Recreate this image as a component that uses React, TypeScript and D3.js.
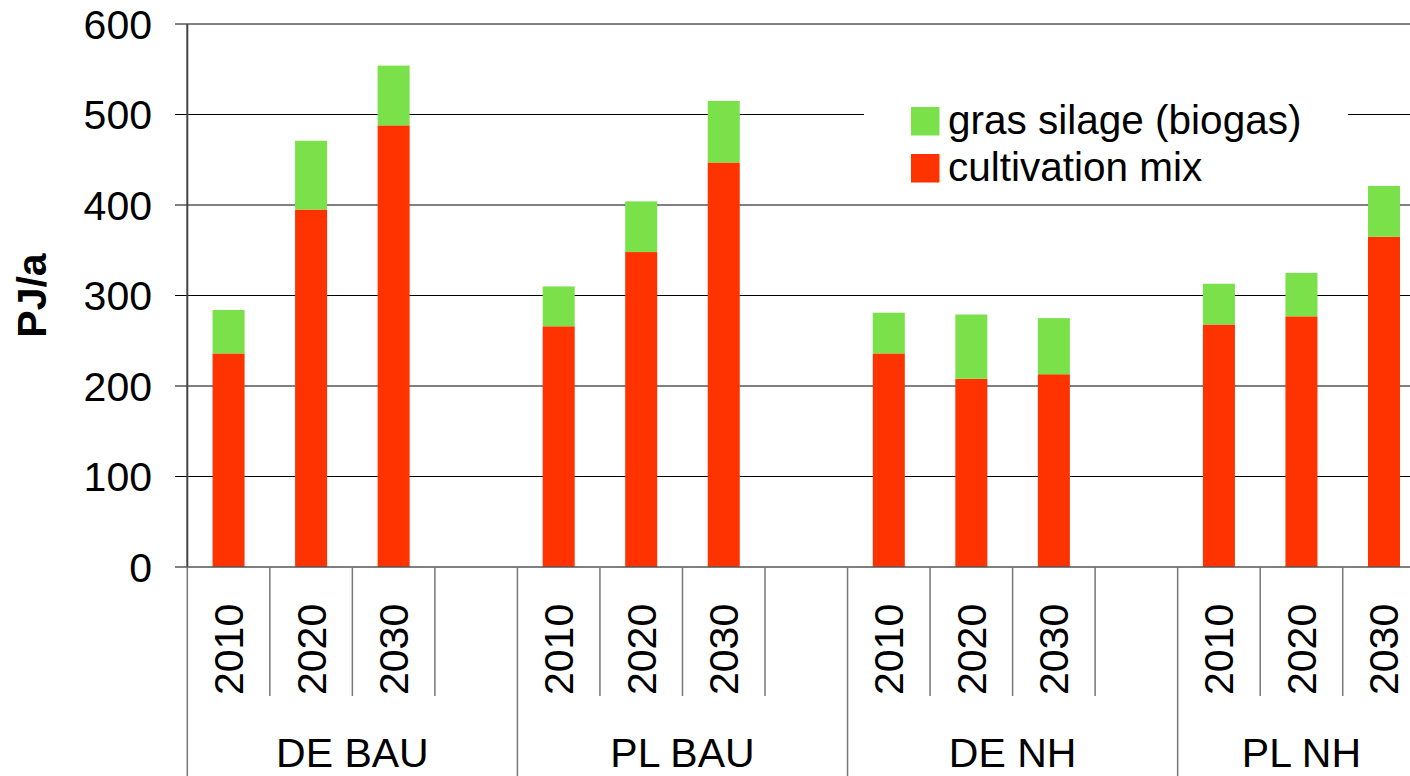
import React from "react";
import * as d3 from "d3";

// Scenario groups and the years shown inside each group
const groups = ["DE BAU", "PL BAU", "DE NH", "PL NH"];
const years = ["2010", "2020", "2030"];

// Energy potential in PJ/a, one row per group, one value per year
const cultivationMix = [
  [236, 395, 488],
  [266, 348, 447],
  [236, 208, 213],
  [268, 277, 365],
];
const grasSilage = [
  [48, 76, 66],
  [44, 56, 68],
  [45, 71, 62],
  [45, 48, 56],
];

const yTicks = [0, 100, 200, 300, 400, 500, 600];
const seriesNames = ["gras silage (biogas)", "cultivation mix"];
const seriesColors = ["#7be14b", "#ff3300"];

const W = 1410;
const H = 776;
const FONT = "'Liberation Sans', Arial, Helvetica, sans-serif";

export default function App() {
  // Each group takes four slots (three years + one spacer), the last group only three
  const slots: { key: string; group: number; year: number | null }[] = [];
  groups.forEach((_, g) => {
    years.forEach((_, yi) => slots.push({ key: `${g}-${yi}`, group: g, year: yi }));
    if (g < groups.length - 1) slots.push({ key: `${g}-gap`, group: g, year: null });
  });

  const left = 187.3;
  const slotW = 82.53;
  const x = d3
    .scaleBand<string>()
    .domain(slots.map((s) => s.key))
    .range([left, left + slotW * slots.length])
    .padding(0);
  const barW = x.bandwidth() * 0.388;

  const y = d3.scaleLinear().domain([0, 600]).range([567, 24]);
  const plotRight = left + slotW * slots.length;
  const axisY = y(0);

  const stack = d3.stack<number[]>().keys(["0", "1"]).value((d, k) => d[+k]);
  const rows: number[][] = [];
  groups.forEach((_, g) =>
    years.forEach((_, yi) => rows.push([cultivationMix[g][yi], grasSilage[g][yi]]))
  );
  const stacked = stack(rows);
  const barKeys: string[] = [];
  groups.forEach((_, g) => years.forEach((_, yi) => barKeys.push(`${g}-${yi}`)));

  const groupStart = (g: number) => x(`${g}-0`) as number;
  const groupEnd = (g: number) =>
    g < groups.length - 1 ? (x(`${g}-gap`) as number) + slotW : plotRight;

  return (
    <div style={{ position: "absolute", left: 0, top: 0 }}>
      <svg width={W} height={H} style={{ display: "block", background: "#fff" }} fontFamily={FONT}>
        <rect width={W} height={H} fill="#fff" />
        {/* horizontal gridlines with outside tick stubs */}
        {yTicks.slice(1).map((t) => (
          <line key={t} x1={175} x2={plotRight} y1={y(t)} y2={y(t)} stroke="#000" strokeWidth={1} />
        ))}
        {/* y tick labels */}
        {yTicks.map((t) => (
          <text key={t} x={152} y={y(t) + 14.5} textAnchor="end" fontSize={41} fill="#000">
            {t}
          </text>
        ))}
        {/* y axis title */}
        <text
          transform={`translate(46,295.5) rotate(-90)`}
          textAnchor="middle"
          fontSize={41}
          fontWeight="bold"
          fill="#000"
        >
          PJ/a
        </text>

        {/* stacked bars */}
        {stacked.map((layer, li) =>
          layer.map((d, i) => {
            const cx = (x(barKeys[i]) as number) + slotW / 2;
            return (
              <rect
                key={`${li}-${i}`}
                x={cx - barW / 2}
                y={y(d[1])}
                width={barW}
                height={y(d[0]) - y(d[1])}
                fill={seriesColors[1 - li]}
              />
            );
          })
        )}

        {/* legend */}
        <rect x={864} y={95} width={484} height={100} fill="#fff" />
        {seriesNames.map((name, i) => (
          <g key={name} transform={`translate(911,${107 + i * 47})`}>
            <rect width={28.5} height={28.5} fill={seriesColors[i]} />
            <text x={37} y={27} fontSize={40.5} fill="#000">
              {name}
            </text>
          </g>
        ))}

        {/* axes */}
        <line x1={left} x2={left} y1={24} y2={axisY} stroke="#444" strokeWidth={2} />
        <line x1={175} x2={plotRight} y1={axisY} y2={axisY} stroke="#555" strokeWidth={1.5} />

        {/* category separators: short between slots, long between groups */}
        {slots.map((s) => {
          const sx = x(s.key) as number;
          const isGroupStart = s.year === 0;
          return (
            <line
              key={`sep-${s.key}`}
              x1={sx}
              x2={sx}
              y1={axisY}
              y2={isGroupStart ? H : 696}
              stroke="#777"
              strokeWidth={1.5}
            />
          );
        })}

        {/* year labels */}
        {slots
          .filter((s) => s.year !== null)
          .map((s) => {
            const cx = (x(s.key) as number) + slotW / 2 + 14.5;
            return (
              <text
                key={`yl-${s.key}`}
                transform={`translate(${cx},695) rotate(-90)`}
                textAnchor="start"
                fontSize={41}
                fill="#000"
              >
                {years[s.year as number]}
              </text>
            );
          })}

        {/* group labels */}
        {groups.map((g, gi) => (
          <text
            key={g}
            x={(groupStart(gi) + groupEnd(gi)) / 2}
            y={766.5}
            textAnchor="middle"
            fontSize={41}
            fill="#000"
          >
            {g}
          </text>
        ))}
      </svg>
    </div>
  );
}
